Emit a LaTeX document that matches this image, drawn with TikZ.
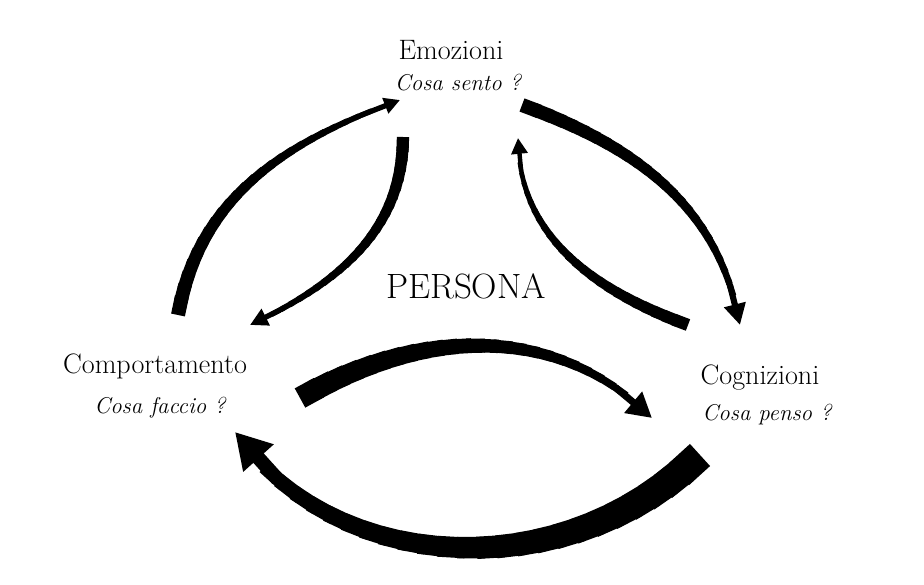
\documentclass[tikz,border=0pt]{standalone}
\usepackage{fontspec}
\usepackage{tikz}
\usetikzlibrary{arrows.meta}

\tikzset{
  title/.style={font=\fontsize{16}{18}\selectfont, inner sep=0pt},
  question/.style={font=\fontsize{13}{15}\selectfont\itshape, inner sep=0pt},
}

% tapered arrow: from, to, curve, start width, end width, head length, head width (pt)
\newcommand{\taperarrow}[7]{%
  \foreach \k in {0,...,23} {
    \pgfmathsetmacro\pa{0.9*\k/24}
    \pgfmathsetmacro\pb{0.9*(\k+1.4)/24}
    \pgfmathsetmacro\lw{#4+(#5-#4)*\k/23}
    \path (#1) to[#3] coordinate[pos=\pa] (ta) coordinate[pos=\pb] (tb) (#2);
    \draw[line width=\lw pt] (ta) -- (tb);
  }
  \path (#1) to[#3] coordinate[pos=0.88] (tc) (#2);
  \draw[line width=#5pt, -{Triangle[length=#6pt, width=#7pt]}] (tc) -- (#2);
}

\begin{document}
\begin{tikzpicture}[x=0.02cm, y=0.02cm]
    \useasboundingbox (0,0) rectangle (924,585);
    % the three corners
    \node[title] (emo) at (451,535) {Emozioni};
    \node[question] (emoq) at (458,502) {Cosa sento ?};
    \node[title] (comp) at (155,219) {Comportamento};
    \node[question] (compq) at (160,177) {Cosa faccio ?};
    \node[title] (cogn) at (760,207) {Cognizioni};
    \node[question] (cognq) at (767,170) {Cosa penso ?};
    \node[font=\fontsize{20}{22}\selectfont, inner sep=0pt] (persona) at (466,299) {PERSONA};
    % arrow ends
    \coordinate (compUp) at (178,270);  \coordinate (emoIn) at (400,485);
    \coordinate (emoDown) at (403,448); \coordinate (compIn) at (250,260);
    \coordinate (emoOut) at (522,480);  \coordinate (cognIn) at (740,260);
    \coordinate (cognUp) at (688,260);  \coordinate (emoBack) at (518,447);
    \coordinate (compOut) at (300,187); \coordinate (cognLow) at (652,167);
    \coordinate (cognOut) at (700,130); \coordinate (compLow) at (235,153);
    % arrows
    \taperarrow{compUp}{emoIn}{out=80, in=200}{8}{3}{9}{9}
    \taperarrow{emoDown}{compIn}{out=270, in=25}{7}{3}{10}{10}
    \taperarrow{emoOut}{cognIn}{out=-20, in=100}{8}{3.5}{12}{12}
    \taperarrow{cognUp}{emoBack}{out=160, in=270}{7}{2.5}{9}{9}
    \taperarrow{compOut}{cognLow}{out=30, in=135}{12.5}{4}{14}{15}
    \taperarrow{cognOut}{compLow}{out=225, in=-55}{17}{8}{20}{22}
\end{tikzpicture}
\end{document}
